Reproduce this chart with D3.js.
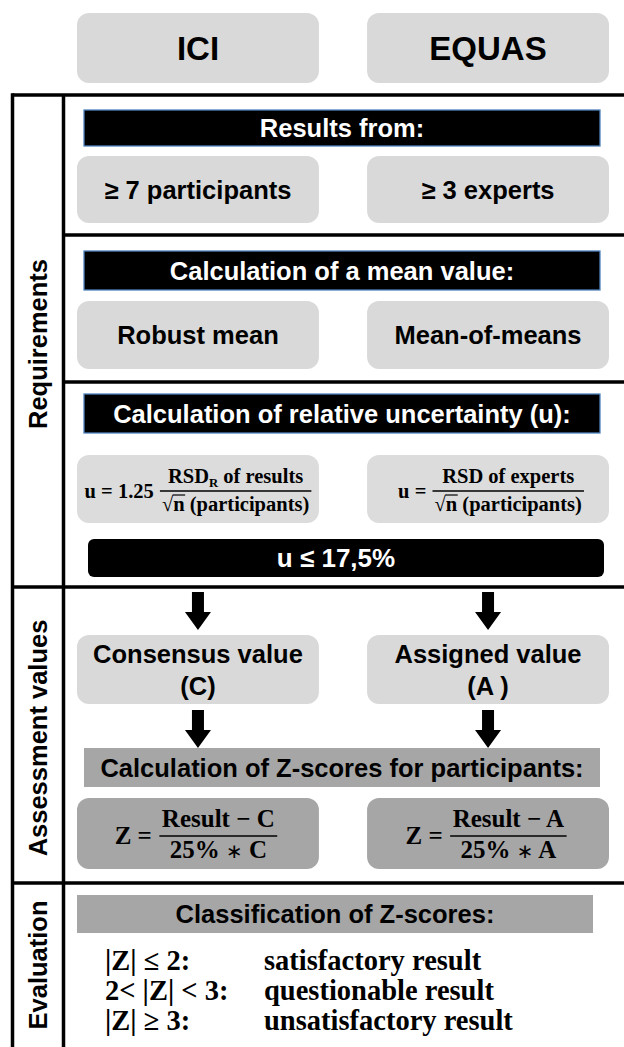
<!DOCTYPE html>
<html><head><meta charset="utf-8">
<script src="https://cdn.jsdelivr.net/npm/d3@7"></script>
<style>html,body{margin:0;padding:0;background:#fff;overflow:hidden}svg{display:block}</style>
</head><body>
<script>
// ---------- content ----------
const methods = ["ICI", "EQUAS"];
const sectionLabels = ["Requirements", "Assessment values", "Evaluation"];
const barTitles = ["Results from:", "Calculation of a mean value:", "Calculation of relative uncertainty (u):"];
const resultsFrom = ["≥ 7 participants", "≥ 3 experts"];
const meanMethods = ["Robust mean", "Mean-of-means"];
const uPrefix = ["u = 1.25", "u ="];
const uNumMain = ["RSD", "RSD of experts"];
const uNumSub = ["R", ""];
const uNumTail = [" of results", ""];
const uDenRoot = "n";
const uDenTail = " (participants)";
const uLimit = "u ≤ 17,5%";
const assessedLine1 = ["Consensus value", "Assigned value"];
const assessedLine2 = ["(C)", "(A )"];
const assessedSymbols = ["C", "A"];
const zTitle = "Calculation of Z-scores for participants:";
const classTitle = "Classification of Z-scores:";
const classConditions = ["|Z| ≤ 2:", " 2< |Z| < 3:", "|Z| ≥ 3:"];
const classResults = ["satisfactory result", "questionable result", "unsatisfactory result"];

// ---------- layout ----------
const W = 624, H = 1047;
const SANS = "'Liberation Sans', Arial, sans-serif";
const SERIF = "'Liberation Serif', 'Times New Roman', serif";
const LIGHT = "#d9d9d9", DARK = "#a6a6a6";
const frame = {left: 12.5, divider: 63.5, top: 95, right: 640, bottom: 1060};
const innerLines = [235, 382];      // lines inside Requirements
const fullLines = [587, 883];       // lines between row groups
const sectionSpans = [[95, 587], [587, 883], [883, 1047]];
const barX = [84, 600];

const x = d3.scaleBand().domain(methods).range([77, 609]).paddingInner(0.166).paddingOuter(0);
const cx = m => x(m) + x.bandwidth() / 2;

const svg = d3.select("body").append("svg").attr("width", W).attr("height", H);

function label(g, txt, px, cy, size, opts = {}) {
  return g.append("text")
    .attr("x", px).attr("y", cy + 0.358 * size)
    .attr("text-anchor", opts.anchor || "middle")
    .attr("font-family", opts.family || SANS)
    .attr("font-weight", "bold")
    .attr("font-size", size)
    .attr("fill", opts.fill || "#000")
    .style("white-space", "pre")
    .text(txt);
}

function boxRow(y0, h, fill, rx, texts, size) {
  const g = svg.append("g");
  g.selectAll("rect").data(methods).join("rect")
    .attr("x", d => x(d)).attr("y", y0).attr("width", x.bandwidth()).attr("height", h)
    .attr("rx", rx).attr("fill", fill);
  if (texts) methods.forEach((m, i) => label(g, texts[i], cx(m), y0 + h / 2, size));
  return g;
}

function bar(y0, h, fill, stroke, txt, txtFill, rx = 0) {
  const g = svg.append("g");
  g.append("rect").attr("x", barX[0]).attr("y", y0).attr("width", barX[1] - barX[0]).attr("height", h)
    .attr("rx", rx).attr("fill", fill)
    .attr("stroke", stroke || "none").attr("stroke-width", stroke ? 1.3 : 0);
  label(g, txt, (barX[0] + barX[1]) / 2, y0 + h / 2, 25.5, {fill: txtFill});
}

function arrow(m, y0, y1) {
  const c = cx(m), sw = 6, hw = 13, hl = 18;
  const p = d3.path();
  p.moveTo(c - sw, y0); p.lineTo(c + sw, y0); p.lineTo(c + sw, y1 - hl);
  p.lineTo(c + hw, y1 - hl); p.lineTo(c, y1); p.lineTo(c - hw, y1 - hl);
  p.lineTo(c - sw, y1 - hl); p.closePath();
  svg.append("path").attr("d", p.toString()).attr("fill", "#000");
}

// text with an optional light "∗" operator rendered as a separate tspan
function fillParts(el, str, size) {
  const pieces = str.split("∗");
  pieces.forEach((p, i) => {
    if (i > 0) el.append("tspan").attr("font-weight", "normal").attr("font-family", "'DejaVu Sans', sans-serif")
      .attr("font-size", size * 0.8).text("∗");
    el.append("tspan").text(p);
  });
}

// fraction formula centred on centreX
function formula(centreX, lineY, size, prefix, numParts, denParts, geo) {
  const g = svg.append("g").attr("font-family", SERIF).attr("font-weight", "bold").attr("font-size", size)
    .style("white-space", "pre");
  const pre = g.append("text").attr("x", 0).attr("y", lineY + geo.pre).text(prefix);
  const wPre = pre.node().getComputedTextLength();
  const num = g.append("text").attr("y", lineY + geo.num).attr("text-anchor", "middle");
  num.append("tspan").text(numParts[0]);
  if (numParts[1]) num.append("tspan").attr("font-size", size * 0.62).attr("dy", size * 0.2).text(numParts[1]);
  if (numParts[2]) num.append("tspan").attr("dy", numParts[1] ? -size * 0.2 : 0).text(numParts[2]);
  const wNum = num.node().getBBox().width;
  const den = g.append("text").attr("y", lineY + geo.den).attr("text-anchor", "middle");
  fillParts(den, denParts.join(""), size);
  const wDen = den.node().getComputedTextLength();
  const gap = size * 0.3, pad = size * 0.1;
  const fw = Math.max(wNum, wDen) + 2 * pad;
  const fx0 = wPre + gap, fmid = fx0 + fw / 2;
  num.attr("x", fmid); den.attr("x", fmid);
  g.append("line").attr("x1", fx0).attr("x2", fx0 + fw).attr("y1", lineY).attr("y2", lineY)
    .attr("stroke", "#000").attr("stroke-width", 1.4);
  if (denParts[0] === "√") {
    const dn = den.node();
    const start = fmid - wDen / 2;
    const a = start + dn.getSubStringLength(0, 1);
    const b = a + dn.getSubStringLength(1, 1);
    const oy = lineY + geo.den - size * 0.78;
    g.append("line").attr("x1", a - 0.5).attr("x2", b + 0.5).attr("y1", oy).attr("y2", oy)
      .attr("stroke", "#000").attr("stroke-width", 1.2);
  }
  const total = fx0 + fw;
  g.attr("transform", `translate(${centreX - total / 2},0)`);
}

// ---------- header ----------
boxRow(13, 70, LIGHT, 12, methods, 33);

// ---------- frame ----------
const fg = svg.append("g").attr("stroke", "#000").attr("stroke-width", 3.5).attr("fill", "none");
fg.append("line").attr("x1", frame.left).attr("x2", frame.right).attr("y1", frame.top).attr("y2", frame.top);
fg.append("line").attr("x1", frame.left).attr("x2", frame.left).attr("y1", frame.top - 1.75).attr("y2", frame.bottom);
fg.append("line").attr("x1", frame.divider).attr("x2", frame.divider).attr("y1", frame.top).attr("y2", frame.bottom);
fg.selectAll(".in").data(innerLines).join("line").attr("x1", frame.divider).attr("x2", frame.right)
  .attr("y1", d => d).attr("y2", d => d);
fg.selectAll(".full").data(fullLines).join("line").attr("x1", frame.left).attr("x2", frame.right)
  .attr("y1", d => d).attr("y2", d => d);

// section labels (rotated)
const lg = svg.append("g");
sectionLabels.forEach((s, i) => {
  const cy = (sectionSpans[i][0] + sectionSpans[i][1]) / 2 + (i === 2 ? 0 : 3);
  const lx = (frame.left + frame.divider) / 2;
  lg.append("text").attr("transform", `translate(${lx + 0.358 * 25.5},${cy}) rotate(-90)`)
    .attr("text-anchor", "middle").attr("font-family", SANS).attr("font-weight", "bold")
    .attr("font-size", 25.5).text(s);
});

// ---------- Requirements ----------
bar(110, 36, "#000", "#4f81bd", barTitles[0], "#fff");
boxRow(156, 67, LIGHT, 12, resultsFrom, 25.5);

bar(251, 39, "#000", "#4f81bd", barTitles[1], "#fff");
boxRow(301, 68, LIGHT, 12, meanMethods, 25.5);

bar(394, 39, "#000", "#4f81bd", barTitles[2], "#fff");
boxRow(455, 68, "#dcdcdc", 12, null);
methods.forEach((m, i) => {
  formula(cx(m) + (i ? 3 : 0), 491, 20.5, uPrefix[i], [uNumMain[i], uNumSub[i], uNumTail[i]],
    ["√", uDenRoot, uDenTail], {pre: 6.5, num: -8, den: 20});
});

// u limit bar
svg.append("rect").attr("x", 88).attr("y", 539).attr("width", 516).attr("height", 38).attr("rx", 6).attr("fill", "#000");
label(svg, uLimit, 336, 558, 26, {fill: "#fff"});

// ---------- Assessment values ----------
methods.forEach(m => arrow(m, 592, 630));
const ag = boxRow(635, 69, LIGHT, 12, null);
methods.forEach((m, i) => {
  label(ag, assessedLine1[i], cx(m), 654, 25.5);
  label(ag, assessedLine2[i], cx(m), 686, 25.5);
});
methods.forEach(m => arrow(m, 710, 748));

bar(748, 39, DARK, null, zTitle, "#000");
boxRow(798, 71, DARK, 12, null);
methods.forEach((m, i) => {
  formula(cx(m) - 2, 836, 25, "Z  =", ["Result − " + assessedSymbols[i]], ["25% ∗ " + assessedSymbols[i]],
    {pre: 8, num: -9, den: 22});
});

// ---------- Evaluation ----------
svg.append("rect").attr("x", 77).attr("y", 895).attr("width", 516).attr("height", 38).attr("fill", DARK);
label(svg, classTitle, 335, 914, 25.5);
const eg = svg.append("g").attr("font-family", SERIF).attr("font-weight", "bold").attr("font-size", 28.5)
  .style("white-space", "pre");
const rowY = d3.scalePoint().domain(d3.range(classConditions.length)).range([970, 1030]);
eg.selectAll(".cond").data(classConditions).join("text").attr("x", 105).attr("y", (d, i) => rowY(i)).text(d => d);
eg.selectAll(".res").data(classResults).join("text").attr("x", 264).attr("y", (d, i) => rowY(i)).text(d => d);
</script>
</body></html>
